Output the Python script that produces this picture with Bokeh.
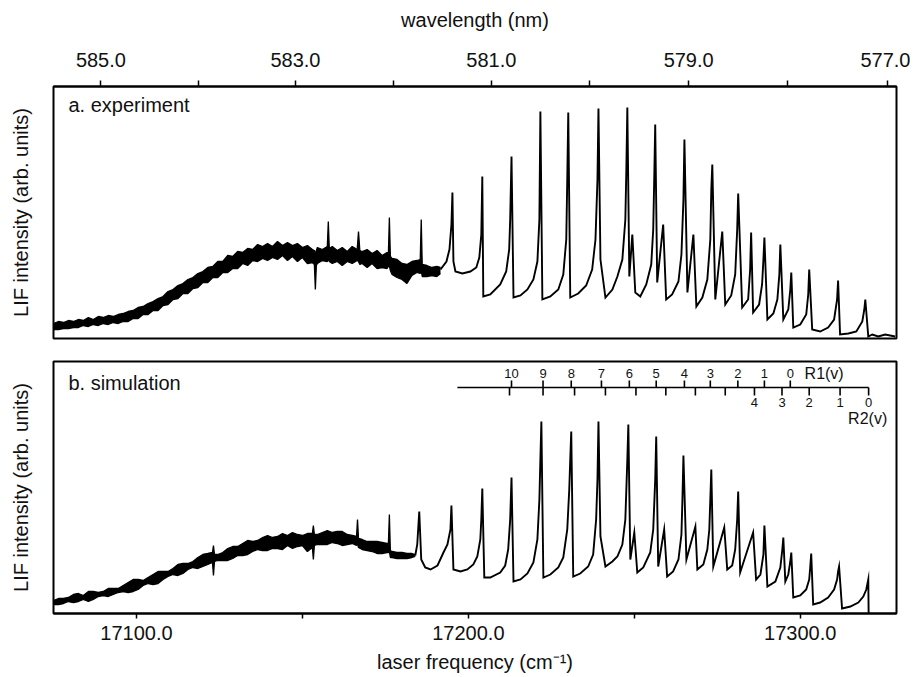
from bokeh.plotting import figure
from bokeh.models import Range1d, LinearAxis, FixedTicker, Label
from bokeh.layouts import column
from bokeh.embed import file_html
from bokeh.resources import INLINE
from bokeh.core.properties import value

# ---------------- data ----------------
# axis ticks
freq_ticks = [17100, 17150, 17200, 17250, 17300]
freq_labels = ["17100.0", "", "17200.0", "", "17300.0"]
wl_ticks = [585.0, 584.0, 583.0, 582.0, 581.0, 580.0, 579.0, 578.0, 577.0]
wl_labels = ["585.0", "", "583.0", "", "581.0", "", "579.0", "", "577.0"]
N_AIR = 1.000277  # wavelengths are in air

# a. experiment -- noisy low-frequency band (upper / lower envelope)
exp_band_x = [17075.0, 17076.5, 17078.0, 17079.5, 17081.0, 17082.5, 17084.0, 17085.5, 17087.0, 17088.5,
              17090.0, 17091.5, 17093.0, 17094.5, 17096.0, 17097.5, 17099.0, 17100.5, 17102.0, 17103.5,
              17105.0, 17106.5, 17108.0, 17109.5, 17111.0, 17112.5, 17114.0, 17115.5, 17117.0, 17118.5,
              17120.0, 17121.5, 17123.0, 17124.5, 17126.0, 17127.5, 17129.0, 17130.5, 17132.0, 17133.5,
              17135.0, 17136.5, 17138.0, 17139.5, 17141.0, 17142.5, 17144.0, 17145.5, 17147.0, 17148.5,
              17150.0, 17151.5, 17153.0, 17153.6, 17153.9, 17154.2, 17154.5, 17156.0, 17157.5, 17157.8,
              17158.1, 17159.0, 17160.5, 17162.0, 17163.5, 17165.0, 17166.5, 17166.9, 17167.3, 17168.0,
              17169.5, 17171.0, 17172.5, 17174.0, 17175.5, 17175.9, 17176.2, 17176.5, 17177.0, 17178.5,
              17180.0, 17181.5, 17183.0, 17184.5, 17185.5, 17185.8, 17186.1, 17187.5, 17189.0, 17190.5,
              17191.6]
exp_band_up = [15, 17, 16, 18, 17, 19, 18, 21, 19, 22,
               21, 23, 22, 24, 25, 27, 28, 31, 32, 35,
               37, 40, 42, 47, 49, 53, 55, 59, 61, 65,
               67, 71, 72, 77, 77, 83, 82, 87, 86, 90,
               89, 94, 92, 95, 92, 97, 93, 96, 93, 95,
               91, 93, 89, 88, 84, 88, 91, 89, 92, 117,
               90, 92, 88, 91, 87, 92, 89, 107, 88, 87,
               89, 85, 88, 83, 86, 85, 121, 82, 80, 79,
               75, 74, 77, 78, 79, 119, 74, 73, 71, 72,
               71]
exp_band_lo = [9, 9, 10, 10, 11, 11, 13, 12, 14, 13,
               15, 14, 16, 15, 17, 17, 20, 20, 24, 24,
               28, 28, 33, 34, 39, 40, 45, 45, 50, 51,
               56, 56, 61, 61, 66, 66, 70, 70, 75, 73,
               78, 77, 80, 78, 81, 79, 83, 78, 82, 77,
               81, 75, 76, 74, 49, 73, 75, 78, 77, 80,
               77, 75, 77, 73, 77, 75, 78, 77, 74, 75,
               71, 75, 70, 71, 70, 72, 73, 68, 64, 61,
               59, 55, 63, 66, 65, 68, 62, 62, 63, 62,
               65]

# a. experiment -- resolved band heads
exp_x = [17191.6, 17193.4, 17194.3, 17194.9, 17195.2, 17195.5, 17196.1, 17198.2, 17200.6, 17202.4,
         17203.3, 17203.9, 17204.2, 17204.5, 17206.6, 17209.6, 17211.4, 17212.3, 17212.6, 17213.0,
         17213.6, 17215.7, 17217.8, 17219.6, 17220.8, 17221.4, 17221.7, 17222.3, 17224.7, 17227.1,
         17228.6, 17229.5, 17229.8, 17230.1, 17230.7, 17233.1, 17235.5, 17237.3, 17238.3, 17238.9,
         17239.2, 17239.8, 17241.3, 17243.4, 17244.9, 17246.4, 17247.3, 17247.6, 17247.9, 17248.5,
         17249.4, 17250.3, 17251.8, 17253.6, 17255.1, 17255.7, 17256.0, 17256.3, 17256.9, 17258.7,
         17259.6, 17261.4, 17263.3, 17264.2, 17264.8, 17265.1, 17266.0, 17267.8, 17268.7, 17270.5,
         17272.0, 17272.9, 17273.2, 17273.5, 17274.4, 17276.5, 17277.4, 17279.2, 17280.4, 17281.0,
         17281.3, 17282.5, 17284.3, 17284.9, 17285.2, 17285.8, 17287.6, 17288.5, 17288.9, 17289.2,
         17290.1, 17291.9, 17293.1, 17293.7, 17294.0, 17294.9, 17296.4, 17297.0, 17297.3, 17297.9,
         17300.0, 17301.8, 17302.4, 17302.7, 17303.6, 17306.0, 17308.4, 17310.2, 17311.1, 17311.4,
         17312.0, 17314.5, 17316.9, 17318.7, 17319.3, 17319.6, 17320.5, 17321.7, 17323.5, 17325.6,
         17328.6]
exp_y = [69, 77, 89, 114, 146, 77, 67, 65, 67, 71,
         81, 104, 162, 42, 44, 54, 67, 89, 119, 182,
         41, 43, 49, 59, 77, 119, 227, 39, 42, 49,
         64, 99, 159, 226, 41, 45, 53, 69, 99, 159,
         230, 79, 41, 49, 62, 79, 119, 169, 231, 62,
         104, 46, 42, 54, 74, 109, 159, 214, 56, 114,
         39, 44, 57, 84, 139, 199, 46, 104, 32, 41,
         59, 99, 149, 174, 39, 107, 34, 43, 64, 109,
         145, 31, 39, 69, 106, 26, 34, 54, 79, 101,
         19, 25, 39, 64, 94, 19, 29, 49, 66, 11,
         14, 24, 44, 69, 9, 7, 11, 19, 39, 58,
         4, 5, 7, 17, 29, 39, 2, 4, 2, 4,
         2]

# b. simulation -- congested low-frequency band (upper / lower envelope)
sim_band_x = [17075.0, 17076.5, 17078.0, 17079.5, 17081.0, 17082.5, 17084.0, 17085.5, 17087.0, 17088.5,
              17090.0, 17091.5, 17093.0, 17094.5, 17096.0, 17097.5, 17099.0, 17100.5, 17102.0, 17103.5,
              17105.0, 17106.5, 17108.0, 17109.5, 17111.0, 17112.5, 17114.0, 17115.5, 17117.0, 17118.5,
              17120.0, 17121.5, 17122.9, 17123.2, 17123.5, 17124.5, 17126.0, 17127.5, 17129.0, 17130.5,
              17132.0, 17133.5, 17135.0, 17136.5, 17138.0, 17139.5, 17141.0, 17142.5, 17144.0, 17145.5,
              17147.0, 17148.5, 17150.0, 17151.5, 17153.0, 17153.3, 17153.6, 17154.5, 17156.0, 17157.5,
              17159.0, 17160.5, 17162.0, 17163.5, 17165.0, 17166.3, 17166.6, 17166.9, 17168.0, 17169.5,
              17171.0, 17172.5, 17174.0, 17175.5, 17175.9, 17176.2, 17176.5, 17177.0, 17178.5, 17180.0,
              17181.5, 17183.0, 17184.0]
sim_band_up = [13, 15, 15, 16, 19, 20, 18, 22, 22, 21,
               22, 25, 25, 25, 28, 31, 34, 34, 33, 36,
               39, 42, 42, 42, 45, 49, 50, 50, 52, 56,
               59, 60, 61, 68, 59, 59, 61, 65, 67, 67,
               70, 73, 72, 73, 76, 78, 76, 77, 80, 78,
               81, 79, 78, 80, 80, 88, 79, 79, 81, 83,
               81, 82, 82, 79, 78, 77, 94, 75, 74, 72,
               72, 72, 71, 70, 70, 99, 63, 62, 61, 61,
               60, 60, 59]
sim_band_lo = [9, 9, 10, 12, 11, 12, 14, 12, 14, 17,
               18, 17, 19, 21, 22, 21, 22, 24, 28, 30,
               29, 30, 34, 37, 39, 38, 40, 44, 46, 45,
               47, 49, 51, 38, 52, 53, 53, 53, 55, 58,
               58, 59, 62, 64, 63, 63, 65, 65, 64, 68,
               65, 67, 68, 62, 66, 54, 68, 69, 69, 69,
               71, 70, 68, 69, 70, 68, 70, 66, 64, 63,
               62, 60, 60, 61, 61, 62, 56, 56, 55, 55,
               55, 56, 57]

# b. simulation -- resolved band heads
sim_x = [17184.0, 17184.6, 17185.2, 17185.8, 17187.0, 17188.6, 17190.7, 17192.5, 17193.7, 17194.6,
         17194.9, 17195.5, 17197.6, 17199.7, 17201.5, 17202.7, 17203.6, 17203.9, 17204.2, 17204.8,
         17206.6, 17209.6, 17211.1, 17212.0, 17212.6, 17213.0, 17213.6, 17215.7, 17217.8, 17219.6,
         17220.8, 17221.4, 17221.7, 17222.0, 17222.6, 17224.7, 17227.1, 17228.6, 17229.8, 17230.4,
         17230.7, 17231.0, 17231.6, 17233.7, 17236.1, 17237.6, 17238.5, 17238.9, 17239.2, 17239.8,
         17241.3, 17243.4, 17244.9, 17246.4, 17247.3, 17247.6, 17247.9, 17248.2, 17248.8, 17250.0,
         17250.9, 17252.7, 17254.8, 17255.7, 17256.3, 17256.6, 17257.2, 17259.0, 17259.9, 17261.7,
         17263.3, 17264.2, 17264.5, 17264.8, 17265.7, 17268.4, 17269.0, 17270.8, 17272.0, 17272.6,
         17272.9, 17273.2, 17273.8, 17277.1, 17278.0, 17279.5, 17280.4, 17281.0, 17281.3, 17281.9,
         17285.8, 17286.7, 17288.0, 17288.9, 17289.2, 17290.1, 17292.5, 17294.0, 17294.6, 17294.9,
         17295.5, 17296.4, 17297.0, 17297.3, 17297.9, 17300.0, 17301.8, 17302.7, 17303.0, 17303.3,
         17303.9, 17306.0, 17308.4, 17310.2, 17311.1, 17311.4, 17311.7, 17312.6, 17315.1, 17317.5,
         17319.0, 17319.9, 17320.5, 17320.6]
sim_y = [58, 69, 102, 54, 46, 44, 48, 61, 69, 84,
         108, 44, 42, 44, 49, 57, 74, 94, 125, 36,
         36, 41, 48, 64, 94, 136, 32, 34, 40, 51,
         74, 114, 154, 192, 36, 39, 46, 56, 84, 124,
         154, 182, 37, 40, 47, 59, 94, 134, 192, 77,
         47, 52, 57, 69, 94, 124, 154, 189, 54, 81,
         41, 46, 61, 84, 134, 177, 47, 84, 37, 42,
         54, 79, 114, 158, 54, 87, 44, 49, 64, 84,
         114, 144, 47, 86, 44, 48, 64, 94, 122, 41,
         81, 34, 39, 59, 88, 27, 32, 46, 64, 76,
         32, 39, 52, 61, 16, 18, 24, 34, 46, 60,
         9, 11, 16, 24, 34, 42, 47, 5, 7, 11,
         17, 24, 34, 0]

# assignment ladders R1(v) and R2(v)
r1_pos = [17213.0, 17222.5, 17231.0, 17240.1, 17248.5, 17256.6, 17265.1, 17272.9, 17281.2,
          17289.2, 17297.0]
r1_labels = ["10", "9", "8", "7", "6", "5", "4", "3", "2", "1", "0"]
r2_pos = [17212.4, 17222.5, 17232.0, 17241.3, 17250.5, 17259.5, 17268.4, 17277.4, 17286.2,
          17294.5, 17302.7, 17312.0, 17320.6]
r2_labels = ["", "", "", "", "", "", "", "", "4", "3", "2", "1", "0"]
ladder_start = 17196.7

# ---------------- styling / layout ----------------
FONT = "Liberation Sans"
X0, X1 = 17075.0, 17329.0
Y0, Y1 = 0, 252
W = 910
TRACE_W = 1.9
TXT = "#111111"

LADDER_Y = 226
LADDER_UP = 7
LADDER_DN = 8


def make_fig(height, top, bottom):
    p = figure(width=W, height=height, x_range=Range1d(X0, X1), y_range=Range1d(Y0, Y1),
               output_backend="svg", toolbar_location=None,
               x_axis_location=None, y_axis_location=None,
               min_border_left=53, min_border_right=14,
               min_border_top=top, min_border_bottom=bottom)
    p.xgrid.visible = False
    p.ygrid.visible = False
    p.outline_line_color = "black"
    p.outline_line_width = 2
    p.outline_line_alpha = 1.0
    p.background_fill_color = "white"
    p.border_fill_color = "white"
    yax = LinearAxis(ticker=FixedTicker(ticks=[]), axis_label="LIF intensity (arb. units)")
    yax.axis_line_color = None
    yax.major_tick_line_color = None
    yax.minor_tick_line_color = None
    yax.major_tick_out = 0
    yax.major_tick_in = 0
    yax.axis_label_text_font = FONT
    yax.axis_label_text_font_size = "20px"
    yax.axis_label_text_font_style = "normal"
    yax.axis_label_text_color = TXT
    yax.axis_label_standoff = 22
    p.add_layout(yax, "left")
    return p


def style_x_axis(ax):
    ax.axis_line_color = "black"
    ax.axis_line_width = 2
    ax.major_tick_line_color = "black"
    ax.major_tick_line_width = 1.5
    ax.major_tick_out = 6
    ax.major_tick_in = 0
    ax.minor_tick_line_color = None
    ax.major_label_text_font = FONT
    ax.major_label_text_font_size = "20px"
    ax.major_label_text_color = TXT
    ax.axis_label_text_font = FONT
    ax.axis_label_text_font_size = "20px"
    ax.axis_label_text_font_style = "normal"
    ax.axis_label_text_color = TXT


def draw_band(p, bx, bup, blo):
    p.varea(x=bx, y1=blo, y2=bup, fill_color="black")
    p.line(bx, bup, line_color="black", line_width=1.3)
    p.line(bx, blo, line_color="black", line_width=1.3)


# ---- panel a ----
pa = make_fig(349, 86, 11)
wl_pos = [round(1e7 / (w * N_AIR), 4) for w in wl_ticks]
top_ax = LinearAxis(ticker=FixedTicker(ticks=wl_pos),
                    major_label_overrides=dict(zip(wl_pos, wl_labels)),
                    axis_label="wavelength (nm)")
style_x_axis(top_ax)
top_ax.major_label_standoff = 14
top_ax.axis_label_standoff = 19
pa.add_layout(top_ax, "above")

draw_band(pa, exp_band_x, exp_band_up, exp_band_lo)
pa.line(exp_x, exp_y, line_color="black", line_width=TRACE_W, line_join="miter")
pa.add_layout(Label(x=17079.5, y=234, text="a. experiment", text_font=FONT,
                    text_font_size="20px", text_baseline="middle", text_color=TXT))

# ---- panel b ----
pb = make_fig(327, 12, 63)
bot_ax = LinearAxis(ticker=FixedTicker(ticks=freq_ticks),
                    major_label_overrides=dict(zip(freq_ticks, freq_labels)),
                    axis_label="laser frequency (cm\u207b\u00b9)")
style_x_axis(bot_ax)
bot_ax.major_tick_out = 5
bot_ax.major_label_standoff = 7
bot_ax.axis_label_standoff = 8
pb.add_layout(bot_ax, "below")

draw_band(pb, sim_band_x, sim_band_up, sim_band_lo)
pb.line(sim_x, sim_y, line_color="black", line_width=TRACE_W, line_join="miter")
pb.add_layout(Label(x=17079.5, y=231, text="b. simulation", text_font=FONT,
                    text_font_size="20px", text_baseline="middle", text_color=TXT))

# ladder
pb.segment(x0=[ladder_start], y0=[LADDER_Y], x1=[r2_pos[-1]], y1=[LADDER_Y],
           line_color="black", line_width=1.6)
pb.segment(x0=r1_pos, y0=[LADDER_Y] * len(r1_pos), x1=r1_pos,
           y1=[LADDER_Y + LADDER_UP] * len(r1_pos), line_color="black", line_width=1.6)
pb.segment(x0=r2_pos, y0=[LADDER_Y] * len(r2_pos), x1=r2_pos,
           y1=[LADDER_Y - LADDER_DN] * len(r2_pos), line_color="black", line_width=1.6)
pb.text(x=r1_pos, y=[LADDER_Y + 14] * len(r1_pos), text=r1_labels,
        text_font=value(FONT), text_font_size=value("13px"), text_align="center",
        text_baseline="middle", text_color=TXT)
pb.text(x=r2_pos, y=[LADDER_Y - 15] * len(r2_pos), text=r2_labels,
        text_font=value(FONT), text_font_size=value("13px"), text_align="center",
        text_baseline="middle", text_color=TXT)
pb.add_layout(Label(x=17307.2, y=LADDER_Y + 14, text="R1(v)", text_font=FONT,
                    text_font_size="16px", text_align="center", text_baseline="middle",
                    text_color=TXT))
pb.add_layout(Label(x=17326.2, y=LADDER_Y - 31, text="R2(v)", text_font=FONT,
                    text_font_size="16px", text_align="right", text_baseline="middle",
                    text_color=TXT))

layout = column(pa, pb, spacing=0)
open("out.html", "w").write(file_html(layout, INLINE))
